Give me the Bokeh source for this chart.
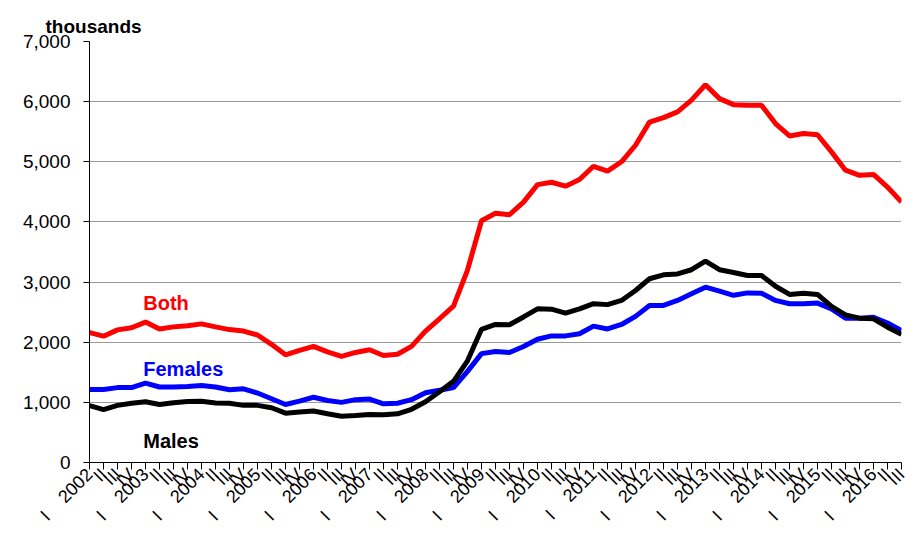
import math
from bokeh.plotting import figure
from bokeh.models import Range1d, NumeralTickFormatter, FixedTicker, Label
from bokeh.embed import file_html
from bokeh.resources import INLINE

NB = "\u00a0"
GAP = NB * 4
quarter_labels = [
    "I" + GAP + "2002", "II", "III", "IV",
    "I" + GAP + "2003", "II", "III", "IV",
    "I" + GAP + "2004", "II", "III", "IV",
    "I" + GAP + "2005", "II", "III", "IV",
    "I" + GAP + "2006", "II", "III", "IV",
    "I" + GAP + "2007", "II", "III", "IV",
    "I" + GAP + "2008", "II", "III", "IV",
    "I" + GAP + "2009", "II", "III", "IV",
    "I" + GAP + "2010", "II", "III", "IV",
    "I" + GAP + "2011", "II", "III", "IV",
    "I" + GAP + "2012", "II", "III", "IV",
    "I" + GAP + "2013", "II", "III", "IV",
    "I" + GAP + "2014", "II", "III", "IV",
    "I" + GAP + "2015", "II", "III", "IV",
    "I" + GAP + "2016", "II", "III",
]

both = [2160, 2100, 2205, 2240, 2335, 2220, 2255, 2275, 2305, 2255,
        2210, 2185, 2120, 1965, 1790, 1865, 1930, 1840, 1765, 1830,
        1875, 1780, 1800, 1930, 2185, 2390, 2600, 3200, 4020, 4145,
        4120, 4330, 4620, 4660, 4595, 4705, 4925, 4845, 5000, 5275,
        5660, 5735, 5830, 6025, 6280, 6050, 5950, 5940, 5940, 5635,
        5430, 5470, 5450, 5165, 4860, 4775, 4790, 4580, 4330]

males = [945, 880, 950, 985, 1010, 965, 995, 1015, 1020, 990,
         985, 950, 950, 910, 820, 840, 855, 810, 770, 780,
         800, 795, 810, 885, 1010, 1175, 1350, 1690, 2215, 2295,
         2290, 2420, 2555, 2550, 2485, 2555, 2640, 2625, 2695, 2860,
         3055, 3120, 3135, 3205, 3350, 3205, 3160, 3110, 3110, 2930,
         2795, 2815, 2795, 2595, 2455, 2400, 2390, 2250, 2130]

females = [1215, 1215, 1245, 1245, 1320, 1255, 1255, 1265, 1280, 1255,
           1210, 1225, 1155, 1060, 965, 1020, 1085, 1030, 1000, 1045,
           1055, 975, 985, 1045, 1160, 1200, 1245, 1515, 1810, 1845,
           1830, 1930, 2050, 2105, 2105, 2140, 2268, 2220, 2295, 2430,
           2610, 2612, 2695, 2805, 2915, 2850, 2780, 2820, 2815, 2695,
           2640, 2640, 2650, 2555, 2400, 2400, 2415, 2320, 2195]

y_ticks = [0, 1000, 2000, 3000, 4000, 5000, 6000, 7000]

x = list(range(len(quarter_labels)))

FONT = "Liberation Sans"

p = figure(width=913, height=537,
           x_range=Range1d(0, len(x) - 1), y_range=Range1d(0, 7000),
           output_backend="svg", toolbar_location=None,
           min_border_left=89, min_border_right=12,
           min_border_top=41, min_border_bottom=75)
p.outline_line_color = None
p.background_fill_color = "white"
p.border_fill_color = "white"

p.title.text = "thousands"
p.title.align = "left"
p.title.offset = -44
p.title.text_font = FONT
p.title.text_font_size = "19px"
p.title.text_font_style = "bold"
p.title.text_color = "black"
p.title.standoff = 10

# x axis
p.xaxis.ticker = FixedTicker(ticks=x)
p.xaxis.major_label_overrides = {i: lab for i, lab in zip(x, quarter_labels)}
p.xaxis.major_label_orientation = math.pi / 4
p.xaxis.major_tick_out = 7
p.xaxis.major_tick_in = 0
p.xaxis.minor_tick_line_color = None
p.xaxis.axis_line_color = "black"
p.xaxis.major_tick_line_color = "black"
p.xaxis.major_label_text_font = FONT
p.xaxis.major_label_text_font_size = "18px"
p.xaxis.major_label_text_color = "black"
p.xaxis.major_label_standoff = 2
p.xgrid.visible = False

# y axis
p.yaxis.ticker = FixedTicker(ticks=y_ticks)
p.yaxis.formatter = NumeralTickFormatter(format="0,0")
p.yaxis.major_tick_out = 6
p.yaxis.major_tick_in = 0
p.yaxis.minor_tick_line_color = None
p.yaxis.axis_line_color = "black"
p.yaxis.major_tick_line_color = "black"
p.yaxis.major_label_text_font = FONT
p.yaxis.major_label_text_font_size = "19px"
p.yaxis.major_label_text_color = "black"
p.yaxis.major_label_standoff = 13
p.ygrid.grid_line_color = "#333333"
p.ygrid.grid_line_dash = "1 1"
p.ygrid.grid_line_width = 1

p.line(x, both, line_color="#FF0000", line_width=5)
p.line(x, females, line_color="#0000FF", line_width=5)
p.line(x, males, line_color="#000000", line_width=5)

for txt, col, yy in [("Both", "#FF0000", 2650), ("Females", "#0000FF", 1550), ("Males", "#000000", 350)]:
    p.add_layout(Label(x=3.84, y=yy, text=txt, text_color=col, text_font=FONT,
                       text_font_size="20px", text_font_style="bold",
                       text_baseline="alphabetic", text_align="left"))

open("out.html", "w").write(file_html(p, INLINE))
